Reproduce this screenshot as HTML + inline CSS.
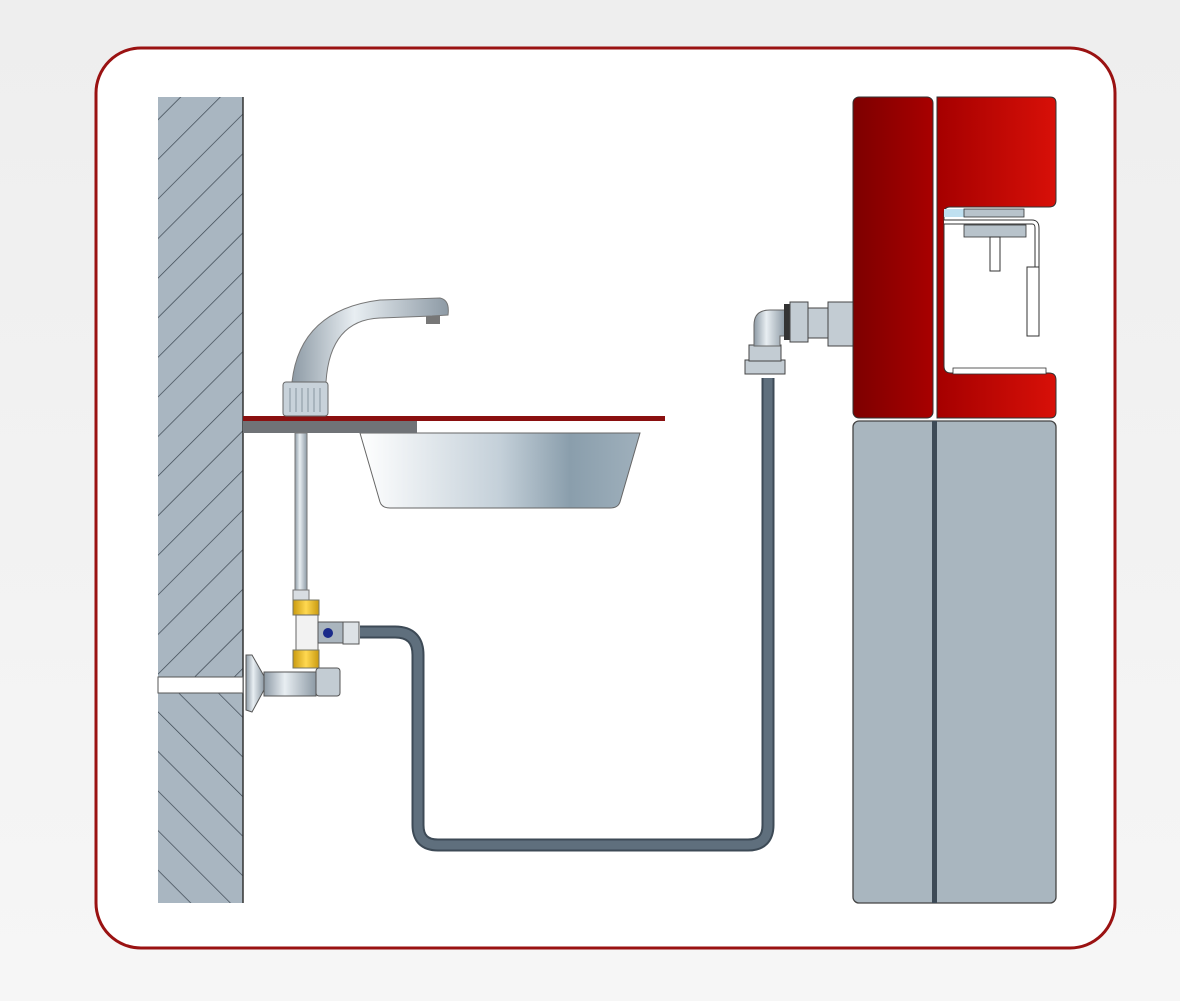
<!DOCTYPE html>
<html><head><style>
html,body{margin:0;padding:0;background:#f2f2f2;}
svg{display:block}
</style></head><body>
<svg width="1180" height="1001" viewBox="0 0 1180 1001" xmlns="http://www.w3.org/2000/svg">
<defs>
<linearGradient id="bg" x1="0" y1="0" x2="0" y2="1"><stop offset="0" stop-color="#eeeeee"/><stop offset="1" stop-color="#f6f6f6"/></linearGradient>
<pattern id="hatch" width="28" height="28" patternUnits="userSpaceOnUse" patternTransform="rotate(45)">
<rect width="28" height="28" fill="#a9b6c1"/><line x1="0" y1="0" x2="0" y2="28" stroke="#3a4550" stroke-width="1.4"/></pattern>
<pattern id="hatch2" width="28" height="28" patternUnits="userSpaceOnUse" patternTransform="rotate(-45)">
<rect width="28" height="28" fill="#a9b6c1"/><line x1="0" y1="0" x2="0" y2="28" stroke="#3a4550" stroke-width="1.4"/></pattern>
<linearGradient id="red1" x1="0" x2="1"><stop offset="0" stop-color="#7d0000"/><stop offset="1" stop-color="#a80000"/></linearGradient>
<linearGradient id="red2" x1="0" x2="1"><stop offset="0" stop-color="#a50000"/><stop offset="1" stop-color="#d81008"/></linearGradient>
<linearGradient id="sink" x1="0" x2="1"><stop offset="0" stop-color="#ffffff"/><stop offset="0.5" stop-color="#c4d0d9"/><stop offset="0.75" stop-color="#8a9eac"/><stop offset="1" stop-color="#9fb0bc"/></linearGradient>
<linearGradient id="metal" x1="0" x2="1"><stop offset="0" stop-color="#8d9aa5"/><stop offset="0.4" stop-color="#e8eef2"/><stop offset="1" stop-color="#8d9aa5"/></linearGradient>
<linearGradient id="brass" x1="0" x2="1"><stop offset="0" stop-color="#c99a10"/><stop offset="0.5" stop-color="#ffd850"/><stop offset="1" stop-color="#c99a10"/></linearGradient>
</defs>
<rect width="1180" height="1001" fill="url(#bg)"/>
<rect x="96" y="48" width="1019" height="900" rx="45" fill="#fff" stroke="#9a1212" stroke-width="3"/>
<!-- wall -->
<rect x="158" y="97" width="85" height="806" fill="url(#hatch)"/>
<rect x="158" y="693" width="85" height="210" fill="url(#hatch2)"/>
<line x1="243" y1="97" x2="243" y2="903" stroke="#333" stroke-width="1.5"/>
<rect x="158" y="677" width="85" height="16" fill="#fff" stroke="#555" stroke-width="1"/>
<!-- sink -->
<path d="M360 433 L640 433 L620 502 Q618 508 610 508 L390 508 Q382 508 380 502 Z" fill="url(#sink)" stroke="#666" stroke-width="1"/>
<rect x="243" y="416" width="422" height="5" fill="#8a1010"/>
<rect x="243" y="421" width="174" height="12" fill="#707377"/>
<!-- faucet -->
<path d="M292 382 Q300 310 380 300 L440 298 Q450 300 448 315 L432 316 L380 318 Q330 320 326 382 Z" fill="url(#metal)" stroke="#777" stroke-width="1"/>
<rect x="426" y="316" width="14" height="8" fill="#777"/>
<rect x="283" y="382" width="45" height="34" rx="3" fill="#c8d2da" stroke="#666"/>
<g stroke="#8895a0" stroke-width="1"><line x1="290" y1="388" x2="290" y2="412"/><line x1="296" y1="388" x2="296" y2="412"/><line x1="302" y1="388" x2="302" y2="412"/><line x1="308" y1="388" x2="308" y2="412"/><line x1="314" y1="388" x2="314" y2="412"/><line x1="320" y1="388" x2="320" y2="412"/></g>
<!-- supply pipe -->
<rect x="295" y="433" width="12" height="160" fill="url(#metal)" stroke="#777"/>
<rect x="293" y="590" width="16" height="10" fill="#d8dde2" stroke="#777"/>
<rect x="293" y="600" width="26" height="15" fill="url(#brass)" stroke="#776"/>
<rect x="296" y="615" width="22" height="35" fill="#f2f2f2" stroke="#666"/>
<path d="M318 622 L345 622 L357 626 L357 638 L345 643 L318 643 Z" fill="#aab5be" stroke="#555"/>
<circle cx="328" cy="633" r="5" fill="#1a2a8a"/>
<rect x="343" y="622" width="16" height="22" fill="#dde2e6" stroke="#555"/>
<rect x="293" y="650" width="26" height="18" fill="url(#brass)" stroke="#776"/>
<!-- angle valve -->
<path d="M246 655 L246 710 L252 712 L264 690 L264 676 L252 655 Z" fill="url(#metal)" stroke="#555"/>
<rect x="264" y="672" width="52" height="24" fill="url(#metal)" stroke="#555"/>
<rect x="316" y="668" width="24" height="28" rx="3" fill="#c3ccd3" stroke="#555"/>
<!-- hose -->
<path d="M360 632 L395 632 Q418 632 418 655 L418 825 Q418 845 438 845 L748 845 Q768 845 768 825 L768 378" fill="none" stroke="#3d4a56" stroke-width="13"/>
<path d="M360 632 L395 632 Q418 632 418 655 L418 825 Q418 845 438 845 L748 845 Q768 845 768 825 L768 378" fill="none" stroke="#5f6f7d" stroke-width="9"/>
<!-- elbow -->
<rect x="745" y="360" width="40" height="14" fill="#c3ccd3" stroke="#444"/>
<rect x="749" y="345" width="32" height="16" fill="#c3ccd3" stroke="#444"/>
<path d="M754 346 L754 325 Q754 310 770 310 L785 310 L785 336 L780 336 L780 346 Z" fill="url(#metal)" stroke="#666"/>
<rect x="784" y="304" width="6" height="36" fill="#333"/>
<rect x="790" y="302" width="18" height="40" fill="#c3ccd3" stroke="#444"/>
<rect x="808" y="308" width="20" height="30" fill="#c3ccd3" stroke="#444"/>
<rect x="828" y="302" width="26" height="44" fill="#c3ccd3" stroke="#444"/>
<!-- machine lower -->
<rect x="853" y="421" width="203" height="482" rx="6" fill="#a9b6bf" stroke="#444" stroke-width="1.3"/>
<rect x="932" y="421" width="5" height="482" fill="#3d4a56"/>
<!-- machine upper -->
<rect x="853" y="97" width="80" height="321" rx="6" fill="url(#red1)" stroke="#333"/>
<path d="M937 97 L1050 97 Q1056 97 1056 103 L1056 200 Q1056 207 1049 207 L950 207 Q944 207 944 214 L944 366 Q944 373 951 373 L1049 373 Q1056 373 1056 380 L1056 412 Q1056 418 1050 418 L937 418 Z" fill="url(#red2)" stroke="#333"/>
<rect x="944" y="209" width="20" height="8" fill="#bfe0f0"/>
<rect x="964" y="209" width="60" height="8" fill="#b8c3cb" stroke="#333" stroke-width="0.8"/>
<path d="M944 222 L1032 222 Q1037 222 1037 228 L1037 268" fill="none" stroke="#333" stroke-width="5"/>
<path d="M944 222 L1032 222 Q1037 222 1037 228 L1037 268" fill="none" stroke="#fff" stroke-width="3"/>
<rect x="964" y="225" width="62" height="12" fill="#b8c3cb" stroke="#333" stroke-width="0.8"/>
<rect x="990" y="237" width="10" height="34" fill="#fff" stroke="#333"/>
<rect x="1027" y="267" width="12" height="69" fill="#fff" stroke="#333"/>
<rect x="953" y="368" width="93" height="6" fill="#fff" stroke="#333" stroke-width="0.8"/>
</svg>
</body></html>
